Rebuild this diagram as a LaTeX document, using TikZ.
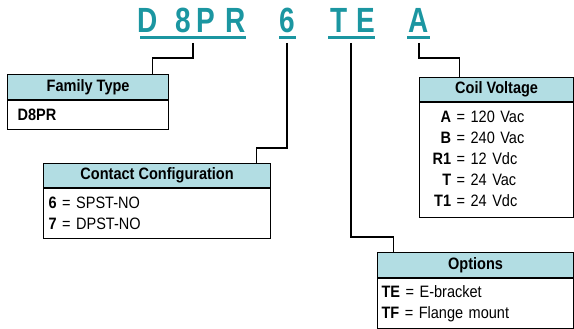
\documentclass[tikz,border=0pt]{standalone}
\usepackage{fontspec}
\setmainfont{Liberation Sans}[FakeStretch=0.88]
\newfontfamily\codefont{Liberation Sans}[FakeStretch=0.8]
\usetikzlibrary{positioning}
\definecolor{codeteal}{RGB}{27,150,161}
\definecolor{hdrblue}{RGB}{178,221,227}
\tikzset{
  every picture/.append style={x=1pt, y=-1pt},
  hdr/.style={draw, fill=hdrblue, line width=1.2pt, anchor=north west, inner sep=0pt,
    font=\bfseries\fontsize{16.5}{18}\selectfont},
  bodybox/.style={draw, fill=white, line width=1.2pt, anchor=north, inner ysep=0pt,
    align=left, font=\fontsize{16.5}{21}\selectfont},
  codeltr/.style={anchor=base, inner sep=0pt, text=codeteal,
    font=\codefont\bfseries\fontsize{35}{35}\selectfont},
  uline/.style={draw=codeteal, line width=2.5pt},
  conn/.style={draw, line width=1.5pt},
}

\begin{document}
\begin{tikzpicture}
\useasboundingbox (0,0) rectangle (574,329);

% --- Part number letters ---
\foreach \ch/\cx/\nm in {D/148/cD, 8/183/cEight, P/206/cP, R/236/cR, 6/287/cSix, T/339/cT, E/366/cE, A/419/cA}
  \node[codeltr] (\nm) at (\cx,33) {\ch};

% underlines of the groups
\draw[uline] (140,37.5) -- (246,37.5);
\draw[uline] (279,37.5) -- (296,37.5);
\draw[uline] (328,37.5) -- (375,37.5);
\draw[uline] (407,37.5) -- (430,37.5);

% --- Family type ---
\node[hdr, minimum width=161pt, minimum height=25pt] (famH) at (7,74) {Family Type};
\node[bodybox, below=0pt of famH, minimum height=29pt, text width=141pt, inner xsep=10pt]
  (famB) {\textbf{D8PR}};

% --- Contact configuration ---
\node[hdr, minimum width=227pt, minimum height=24pt] (contH) at (43,163) {Contact Configuration};
\node[bodybox, below=0pt of contH, minimum height=50pt, text width=217pt, inner xsep=5pt]
  (contB) {\textbf{6} = SPST-NO\\\textbf{7} = DPST-NO};

% --- Coil voltage ---
\node[hdr, minimum width=154pt, minimum height=24pt] (coilH) at (419,77) {Coil Voltage};
\node[bodybox, below=0pt of coilH, minimum height=115pt, text width=128pt, inner xsep=13pt]
  (coilB) {\begin{tabular}{@{}r@{ = }l@{}}
    \textbf{A} & 120 Vac\\
    \textbf{B} & 240 Vac\\
    \textbf{R1} & 12 Vdc\\
    \textbf{T} & 24 Vac\\
    \textbf{T1} & 24 Vdc
  \end{tabular}};

% --- Options ---
\node[hdr, minimum width=196pt, minimum height=25pt] (optH) at (377,252) {Options};
\node[bodybox, below=0pt of optH, minimum height=50pt, text width=188pt, inner xsep=4pt]
  (optB) {\textbf{TE} = E-bracket\\\textbf{TF} = Flange mount};

% --- Leaders ---
\coordinate (famTap) at (193,43);
\coordinate (contTap) at (287,43);
\coordinate (optTap) at (351,43);
\coordinate (coilTap) at (419,43);
\draw[conn] (famTap) -- ++(0,15) -| ([xshift=64.5pt]famH.north);
\draw[conn] (contTap) -- ++(0,105) -| ([xshift=99.5pt]contH.north);
\draw[conn] (optTap) -- ++(0,194) -| ([xshift=-82pt]optH.north);
\draw[conn] (coilTap) -- ++(0,15) -| ([xshift=-37pt]coilH.north);

\end{tikzpicture}
\end{document}
